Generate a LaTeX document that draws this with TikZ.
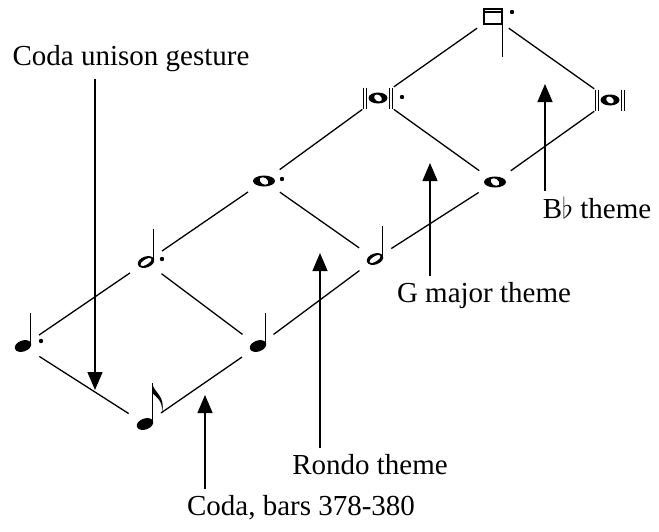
\documentclass[tikz,border=0pt]{standalone}
\usepackage{fontspec}
\setmainfont{Liberation Serif}
\usetikzlibrary{arrows.meta}

\begin{document}
\begin{tikzpicture}[x=0.5pt,y=-0.5pt,
	val/.style={circle,inner sep=0pt,minimum size=19pt},
	edge/.style={line width=0.65pt},
	pointer/.style={line width=0.65pt,-{Triangle[width=7.5pt,length=9pt]},shorten <=3pt},
	lbl/.style={inner sep=0pt,font=\fontsize{14.5}{17}\selectfont},
	stem/.style={line width=0.6pt},
	qnote/.pic={
		\fill[rotate=20] (0,0) ellipse (8.5 and 5.5);
		\draw[stem] (7.6,-1.5) -- (7.6,-33);
	},
	enote/.pic={
		\fill[rotate=20] (0,0) ellipse (8.5 and 5.5);
		\draw[stem] (7.6,-1.5) -- (7.6,-41);
		\fill (7.3,-41) .. controls (8.5,-31) and (21,-29) .. (17,-11)
			.. controls (18,-24) and (11,-27) .. (7.3,-31) -- cycle;
	},
	hnote/.pic={
		\fill[rotate=20] (0,0) ellipse (8.5 and 5.5);
		\fill[white,rotate=32] (0,0) ellipse (6.4 and 2.5);
		\draw[stem] (7.6,-1.5) -- (7.6,-33);
	},
	wnote/.pic={
		\fill (0,0) ellipse (11 and 5.5);
		\fill[white,rotate=-35] (0,0) ellipse (4.6 and 3.2);
	},
	bnote/.pic={
		\fill (0,0) ellipse (9.5 and 5.5);
		\fill[white,rotate=-35] (0,0) ellipse (4.2 and 3);
		\foreach \bx in {-14.5,-11.5,11.5,14.5}
			\draw[stem] (\bx,-10.5) -- (\bx,10.5);
	},
	lnote/.pic={
		\fill (-10,-9) rectangle (10,8);
		\fill[white] (-8,-7.5) rectangle (8,6);
		\fill (-8,-6) rectangle (8,-4.2);
		\draw[stem] (9.6,0) -- (9.6,40);
	},
	aug/.pic={\fill (0,0) circle (2.2);}
]
	\useasboundingbox (0,0) rectangle (659,531);

	% the note values, dotted ones on the left-hand chain
	\path (23,346)  node[val] (dq) {} pic {qnote} ++(18,-5) pic {aug};
	\path (145,424) node[val] (ei) {} pic {enote};
	\path (146,262) node[val] (dh) {} pic {hnote} ++(16,-3) pic {aug};
	\path (258,346) node[val] (qu) {} pic {qnote};
	\path (264,181) node[val] (dw) {} pic {wnote} ++(18,-2) pic {aug};
	\path (375,259) node[val] (ha) {} pic {hnote};
	\path (378,98)  node[val] (db) {} pic {bnote} ++(24,-1) pic {aug};
	\path (495,182) node[val] (wh) {} pic {wnote};
	\path (493,17)  node[val] (dl) {} pic {lnote} ++(19,-5) pic {aug};
	\path (610,100) node[val] (br) {} pic {bnote};

	\foreach \a/\b in {dq/ei,dq/dh,ei/qu,dh/qu,dh/dw,qu/ha,dw/ha,dw/db,ha/wh,db/wh,db/dl,wh/br,dl/br}
		\draw[edge] (\a) -- (\b);

	% labels with their pointers
	\node[lbl] (cug) at (131,59) {Coda unison gesture};
	\coordinate (cugtip) at (95,390);
	\draw[pointer] (cug.south -| cugtip) -- (cugtip);

	\node[lbl] (cba) at (301,508) {Coda, bars 378-380};
	\coordinate (cbatip) at (205,395);
	\draw[pointer] (cba.north -| cbatip) -- (cbatip);

	\node[lbl] (ron) at (370,465) {Rondo theme};
	\coordinate (rontip) at (320,253);
	\draw[pointer] (ron.north -| rontip) -- (rontip);

	\node[lbl] (gma) at (484,296) {G major theme};
	\coordinate (gmatip) at (430,163);
	\draw[pointer] (gma.north -| gmatip) -- (gmatip);

	\node[lbl] (bfl) at (597,208) {B$\flat$ theme};
	\coordinate (bfltip) at (545,84);
	\draw[pointer] (bfl.north -| bfltip) -- (bfltip);
\end{tikzpicture}
\end{document}
